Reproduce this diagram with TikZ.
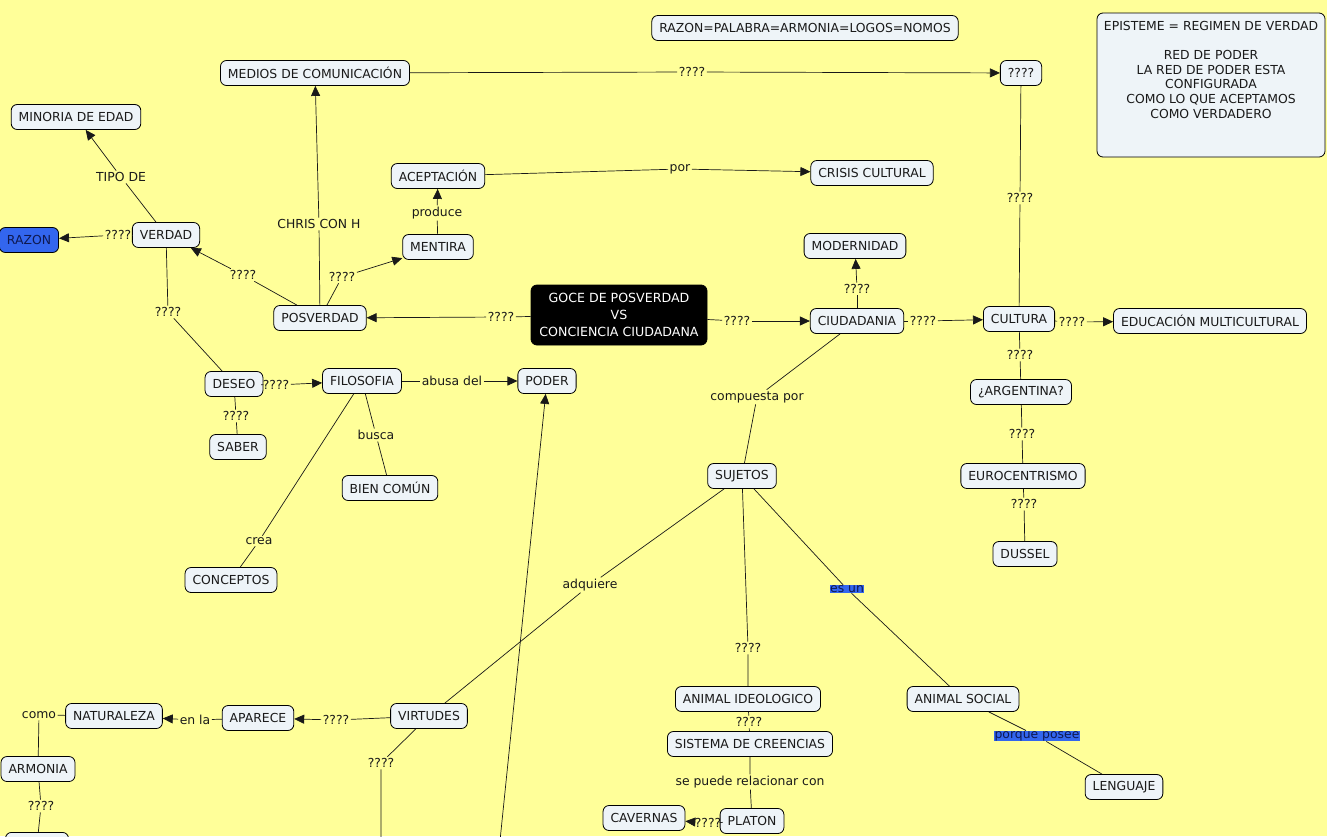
\documentclass[tikz,border=0pt]{standalone}
\usepackage{fontspec}
\setmainfont{DejaVu Sans}
\usetikzlibrary{arrows.meta}
\definecolor{mapbg}{RGB}{255,255,153}
\definecolor{boxfill}{RGB}{238,244,248}
\definecolor{hlblue}{RGB}{51,102,238}
\definecolor{navytext}{RGB}{15,25,80}
\definecolor{inkdark}{RGB}{26,26,26}

\begin{document}
\begin{tikzpicture}[x=1pt,y=-1pt,
    cbox/.style={draw=black, fill=boxfill, rounded corners=6pt, line width=0.8pt,
      minimum height=25pt, inner xsep=7.5pt, text=inkdark, font=\fontsize{12.4}{14.7}\selectfont},
    lbl/.style={fill=mapbg, inner sep=1.5pt, text=inkdark, font=\fontsize{12.4}{14.7}\selectfont},
    hilite/.style={lbl, fill=hlblue, text=navytext, inner sep=0.5pt},
    maplink/.style={line width=0.7pt, draw=black!90},
    linkarrow/.style={maplink, -{Triangle[length=10pt,width=9pt]}}]

    \useasboundingbox (0,0) rectangle (1327,836);
    \clip (0,0) rectangle (1327,836);
    \fill[mapbg] (0,0) rectangle (1327,836);

    \node[lbl] (q1) at (692,72) {????};
    \node[lbl] (chris) at (319,224) {CHRIS CON H};
    \node[lbl] (por) at (680,169) {por};
    \node[lbl] (produce) at (437,213) {produce};
    \node[lbl] (tipo) at (121,177) {TIPO DE};
    \node[lbl] (q2) at (118,235) {????};
    \node[lbl] (q3) at (243,275) {????};
    \node[lbl] (q4) at (342,277) {????};
    \node[lbl] (q5) at (501,317) {????};
    \node[lbl] (q6) at (737,321) {????};
    \node[lbl] (q7) at (857,289) {????};
    \node[lbl] (q8) at (923,321) {????};
    \node[lbl] (q9) at (1072,322) {????};
    \node[lbl] (q10) at (276,385) {????};
    \node[lbl] (abusa) at (452,381) {abusa del};
    \node[lbl] (q11) at (336,720) {????};
    \node[lbl] (enla) at (195,720) {en la};
    \node[lbl] (q12) at (708,823) {????};
    \node[lbl] (q13) at (1020,198) {????};
    \node[lbl] (q14) at (1020,355) {????};
    \node[lbl] (q15) at (1022,434) {????};
    \node[lbl] (q16) at (1024,504) {????};
    \node[lbl] (compuesta) at (757,397) {compuesta por};
    \node[lbl] (q17) at (168,312) {????};
    \node[lbl] (q18) at (236,416) {????};
    \node[lbl] (busca) at (376,435) {busca};
    \node[lbl] (crea) at (259,541) {crea};
    \node[lbl] (adquiere) at (590,585) {adquiere};
    \node[lbl] (q19) at (748,648) {????};
    \node[hilite] (esun) at (847,589) {es un};
    \node[lbl] (q20) at (749,722) {????};
    \node[lbl] (relac) at (750,782) {se puede relacionar con};
    \node[hilite] (posee) at (1037,736) {porque posee};
    \node[lbl] (como) at (39,715) {como};
    \node[lbl] (q21) at (41,806) {????};
    \node[lbl] (q22) at (381,763) {????};

    \node[cbox] (razonpal) at (805,28) {RAZON=PALABRA=ARMONIA=LOGOS=NOMOS};
    \node[cbox, minimum width=228pt, minimum height=144pt] (episteme) at (1211,85) {};
    \node[anchor=north, align=center, text=inkdark, font=\fontsize{12.4}{14.7}\selectfont]
      (epitext) at ([yshift=-5pt]episteme.north)
      {EPISTEME = REGIMEN DE VERDAD\\[14.5pt] RED DE PODER\\ LA RED DE PODER ESTA\\
       CONFIGURADA\\ COMO LO QUE ACEPTAMOS\\ COMO VERDADERO};
    \node[cbox] (medios) at (315,73) {MEDIOS DE COMUNICACIÓN};
    \node[cbox] (preg) at (1021,73) {????};
    \node[cbox] (minoria) at (76,117) {MINORIA DE EDAD};
    \node[cbox] (acept) at (438,176) {ACEPTACIÓN};
    \node[cbox] (crisis) at (872,173) {CRISIS CULTURAL};
    \node[cbox, fill=hlblue, text=navytext] (razon) at (29,240) {RAZON};
    \node[cbox] (verdad) at (166,235) {VERDAD};
    \node[cbox] (mentira) at (438,247) {MENTIRA};
    \node[cbox] (modern) at (855,246) {MODERNIDAD};
    \node[cbox] (posv) at (320,318) {POSVERDAD};
    \node[cbox, fill=black, text=white, align=center, minimum width=176pt, minimum height=60pt,
      font=\fontsize{12.6}{17}\selectfont] (goce) at (619,315)
      {GOCE DE POSVERDAD\\VS\\CONCIENCIA CIUDADANA};
    \node[cbox] (ciud) at (857,321) {CIUDADANIA};
    \node[cbox] (cultura) at (1019,319) {CULTURA};
    \node[cbox] (educ) at (1210,321) {EDUCACIÓN MULTICULTURAL};
    \node[cbox] (deseo) at (234,384) {DESEO};
    \node[cbox] (filo) at (362,381) {FILOSOFIA};
    \node[cbox] (poder) at (547,381) {PODER};
    \node[cbox] (arg) at (1021,392) {¿ARGENTINA?};
    \node[cbox] (saber) at (238,447) {SABER};
    \node[cbox] (bien) at (390,488) {BIEN COMÚN};
    \node[cbox] (sujetos) at (742,476) {SUJETOS};
    \node[cbox] (euro) at (1023,476) {EUROCENTRISMO};
    \node[cbox] (dussel) at (1025,554) {DUSSEL};
    \node[cbox] (concep) at (231,580) {CONCEPTOS};
    \node[cbox] (aideo) at (748,699) {ANIMAL IDEOLOGICO};
    \node[cbox] (asocial) at (963,699) {ANIMAL SOCIAL};
    \node[cbox] (natur) at (114,716) {NATURALEZA};
    \node[cbox] (aparece) at (258,718) {APARECE};
    \node[cbox] (virtudes) at (429,716) {VIRTUDES};
    \node[cbox] (armonia) at (38,769) {ARMONIA};
    \node[cbox] (sistema) at (750,744) {SISTEMA DE CREENCIAS};
    \node[cbox] (lenguaje) at (1124,787) {LENGUAJE};
    \node[cbox] (cavernas) at (644,818) {CAVERNAS};
    \node[cbox] (platon) at (752,821) {PLATON};
    \node[cbox, anchor=north, minimum width=63pt] (ultimo) at (37,832) {};
    \coordinate (offa) at (381,870);
    \coordinate (offb) at (497,870);

    \foreach \a/\l/\b in {medios/q1/preg, posv/chris/medios, acept/por/crisis,
        mentira/produce/acept, verdad/tipo/minoria, verdad/q2/razon, posv/q3/verdad,
        posv/q4/mentira, goce/q5/posv, goce/q6/ciud, ciud/q7/modern, ciud/q8/cultura,
        cultura/q9/educ, deseo/q10/filo, filo/abusa/poder, virtudes/q11/aparece,
        aparece/enla/natur, platon/q12/cavernas} {
      \draw[maplink] (\a) -- (\l);
      \draw[linkarrow] (\l) -- (\b);
    }

    \foreach \a/\l/\b in {cultura/q13/preg, cultura/q14/arg, arg/q15/euro, euro/q16/dussel,
        ciud/compuesta/sujetos, verdad/q17/deseo, deseo/q18/saber, filo/busca/bien,
        filo/crea/concep, sujetos/adquiere/virtudes, sujetos/q19/aideo, sujetos/esun/asocial,
        aideo/q20/sistema, sistema/relac/platon, asocial/posee/lenguaje, natur/como/armonia,
        armonia/q21/ultimo, virtudes/q22/offa}
      \draw[maplink] (\a) -- (\l) -- (\b);

    \draw[linkarrow] (offb) -- (poder);
  \end{tikzpicture}
\end{document}
